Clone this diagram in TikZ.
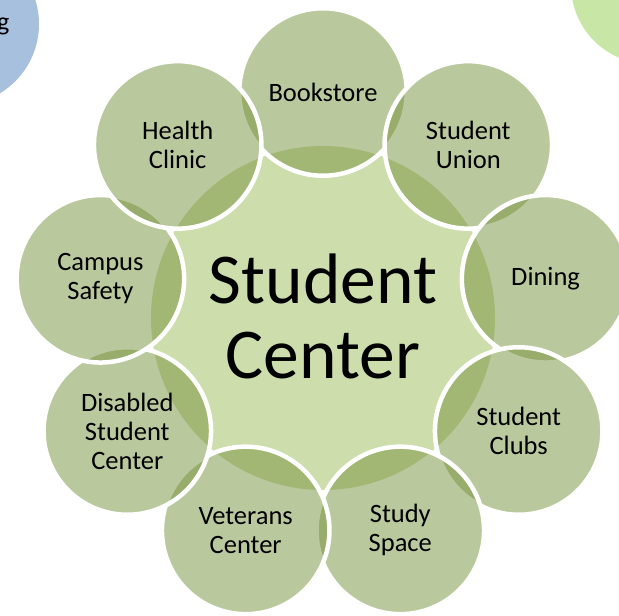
\documentclass[tikz,border=0pt]{standalone}
\usepackage{fontspec}
\setmainfont{Carlito}
\definecolor{outerfill}{RGB}{118,146,60}
\definecolor{centerfill}{RGB}{155,187,89}
\definecolor{bluefill}{RGB}{79,129,189}
\definecolor{lightgreenfill}{RGB}{146,208,80}
\begin{document}
\begin{tikzpicture}[x=1pt,y=-1pt,
  outerc/.style={circle, minimum size=167.5pt, inner sep=0pt, align=center,
    fill=outerfill, fill opacity=0.5, text opacity=1, draw=white, draw opacity=1,
    line width=4.5pt, font=\fontsize{26.5}{29}\selectfont, text=black},
  centerc/.style={circle, minimum size=344pt, inner sep=0pt, align=center,
    fill=centerfill, fill opacity=0.5, text opacity=1,
    font=\fontsize{71.5}{75}\selectfont, text=black},
  bgc/.style={circle, inner sep=0pt, fill opacity=0.5}]
\useasboundingbox (0,0) rectangle (619,616);
\clip (0,0) rectangle (619,616);
\node[bgc, fill=bluefill, minimum size=162pt] (blue) at (-42,24) {};
\node[anchor=base east, inner sep=0pt, font=\fontsize{26}{29}\selectfont] (gtxt) at (9.5,30) {g};
\node[bgc, fill=lightgreenfill, minimum size=158pt] (lgreen) at (650,-15) {};
\node[centerc] (center) at (323,318) {};
\node[outerc] (book) at (323,92) {Bookstore};
\node[outerc] (union) at (468.3,144.9) {Student\\Union};
\node[outerc] (dining) at (545.6,278.8) {Dining};
\node[outerc] (clubs) at (518.7,431) {Student\\Clubs};
\node[outerc] (study) at (400.3,530.4) {Study\\Space};
\node[outerc] (veterans) at (245.7,530.4) {Veterans\\Center};
\node[outerc] (disabled) at (127.3,431) {Disabled\\Student\\Center};
\node[outerc] (safety) at (100.4,278.8) {Campus\\Safety};
\node[outerc] (health) at (177.7,144.9) {Health\\Clinic};
\node[inner sep=0pt, align=center, font=\fontsize{71.5}{75}\selectfont] (ctext) at (323,316) {Student\\Center};
\end{tikzpicture}
\end{document}
